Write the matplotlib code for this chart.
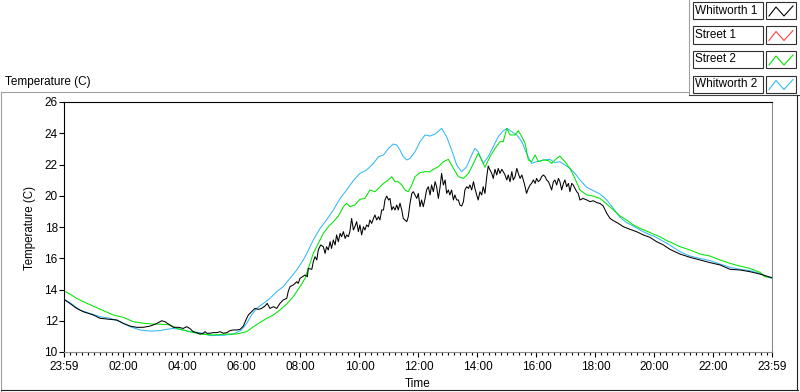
import matplotlib.pyplot as plt
from matplotlib.lines import Line2D
from matplotlib.patches import Rectangle

plt.rcParams['font.family'] = ['Liberation Sans', 'DejaVu Sans']

# time in hours after 23:59, temperature in C
black_h = [0.00, 0.20, 0.43, 0.65, 0.99, 1.22, 1.56, 1.79, 2.01, 2.24, 2.46, 2.69, 2.92, 3.08, 3.20,
           3.31, 3.42, 3.54, 3.71, 3.88, 4.04, 4.16, 4.27, 4.38, 4.50, 4.61, 4.72, 4.78, 4.84, 4.95,
           5.06, 5.18, 5.29, 5.40, 5.52, 5.63, 5.74, 5.85, 5.97, 6.08, 6.19, 6.25, 6.36, 6.47, 6.59,
           6.70, 6.81, 6.89, 6.98, 7.10, 7.21, 7.32, 7.43, 7.55, 7.60, 7.66, 7.77, 7.83, 7.89, 7.94,
           8.00, 8.17, 8.25, 8.28, 8.40, 8.45, 8.51, 8.57, 8.62, 8.70, 8.79, 8.85, 8.90, 8.96, 9.02,
           9.07, 9.13, 9.19, 9.24, 9.30, 9.36, 9.41, 9.47, 9.53, 9.58, 9.64, 9.69, 9.75, 9.81, 9.86,
           9.92, 9.98, 10.03, 10.09, 10.15, 10.20, 10.26, 10.32, 10.37, 10.43, 10.49, 10.54, 10.60,
           10.66, 10.71, 10.77, 10.83, 10.88, 10.94, 11.00, 11.05, 11.11, 11.16, 11.22, 11.28, 11.33,
           11.39, 11.45, 11.50, 11.56, 11.62, 11.67, 11.73, 11.79, 11.84, 11.90, 11.96, 12.01, 12.07,
           12.12, 12.18, 12.24, 12.29, 12.35, 12.41, 12.46, 12.52, 12.58, 12.63, 12.69, 12.75, 12.80,
           12.86, 12.92, 12.97, 13.03, 13.08, 13.14, 13.20, 13.25, 13.31, 13.37, 13.42, 13.48, 13.54,
           13.59, 13.65, 13.71, 13.76, 13.82, 13.88, 13.93, 13.99, 14.04, 14.10, 14.16, 14.21, 14.27,
           14.33, 14.38, 14.44, 14.50, 14.55, 14.61, 14.67, 14.72, 14.78, 14.84, 14.89, 14.95, 15.01,
           15.06, 15.12, 15.18, 15.23, 15.29, 15.35, 15.40, 15.46, 15.52, 15.57, 15.63, 15.68, 15.74,
           15.80, 15.85, 15.91, 15.97, 16.02, 16.08, 16.14, 16.19, 16.25, 16.31, 16.36, 16.42, 16.47,
           16.53, 16.59, 16.64, 16.70, 16.76, 16.81, 16.87, 16.93, 16.98, 17.04, 17.10, 17.15, 17.21,
           17.26, 17.32, 17.38, 17.43, 17.49, 17.60, 17.72, 17.83, 17.94, 18.06, 18.17, 18.28, 18.40,
           18.51, 18.62, 18.79, 18.96, 19.19, 19.41, 19.64, 19.86, 20.09, 20.32, 20.54, 20.88, 21.22,
           21.56, 21.90, 22.24, 22.58, 22.92, 23.25, 23.59, 23.82, 23.99]
black_t = [13.37, 13.11, 12.79, 12.58, 12.37, 12.16, 12.09, 12.05, 11.83, 11.66, 11.58, 11.58, 11.66,
           11.77, 11.88, 12.00, 11.94, 11.79, 11.58, 11.58, 11.51, 11.62, 11.50, 11.30, 11.24, 11.15,
           11.20, 11.30, 11.20, 11.20, 11.24, 11.24, 11.30, 11.20, 11.24, 11.37, 11.41, 11.41, 11.45,
           11.66, 12.15, 12.37, 12.58, 12.79, 12.73, 12.79, 12.94, 13.11, 12.79, 12.90, 12.79, 13.11,
           13.33, 13.43, 13.86, 14.18, 14.29, 14.39, 14.50, 14.39,
           14.71, 14.93, 14.82, 15.35, 15.29, 15.78, 16.10, 15.89, 16.53, 16.85, 16.74, 16.31, 16.74,
           16.53, 17.06, 16.63, 17.17, 16.85, 17.49, 17.06, 17.59, 17.38, 17.70, 17.27, 17.49, 17.38,
           17.70, 18.55, 17.81, 18.02, 18.34, 17.70, 18.13, 17.49, 18.02, 17.81, 18.13, 18.02, 18.45,
           18.23, 18.55, 18.77, 18.45, 18.66, 18.45, 19.09, 19.09, 19.73, 19.98, 19.73, 19.83, 19.09,
           19.30, 19.09, 19.41, 19.09, 19.52, 19.09, 18.55, 18.45, 18.34, 18.66, 19.52, 20.15, 20.26,
           20.05, 19.83, 20.15, 19.30, 19.73, 19.30, 19.83, 20.37, 20.58, 20.05, 20.69, 20.26, 20.90,
           20.58, 19.83, 20.58, 21.43, 20.69, 21.01, 20.15, 20.37, 20.05, 20.37, 19.73, 20.05, 19.73,
           19.73, 19.41, 19.34, 19.62, 20.37, 20.58, 20.47, 20.69, 20.37, 20.90, 20.47, 20.05, 19.73,
           20.26, 20.05, 20.58, 20.15, 21.22, 21.90, 21.65, 21.43, 21.11, 21.69, 21.33, 21.75, 21.43,
           21.69, 21.54, 21.33, 21.01, 21.33, 20.90, 21.54, 21.01, 21.22, 21.75, 21.43, 21.11, 21.33,
           21.01, 20.58, 20.15, 20.47, 20.69, 20.79, 21.01, 20.79, 21.11, 20.90, 21.01, 21.22, 21.33,
           21.22, 21.01, 20.90, 20.69, 20.37, 20.90, 21.01, 20.69, 21.11, 20.90, 20.37, 20.79, 21.01,
           20.58, 20.79, 20.26, 20.79, 20.69, 20.47, 20.26, 20.15, 19.73, 19.83, 19.73, 19.62, 19.68,
           19.56, 19.51, 19.34, 18.87, 18.55, 18.41, 18.23, 18.02, 17.85, 17.70, 17.49, 17.34, 17.06,
           16.85, 16.57, 16.27, 16.06, 15.89, 15.72, 15.57, 15.29, 15.25, 15.14, 14.99, 14.86, 14.76]

green_h = [0.00, 0.20, 0.43, 0.77, 0.99, 1.33, 1.67, 2.01, 2.35, 2.69, 3.03, 3.37, 3.59, 3.82, 4.04,
           4.27, 4.61, 5.06, 5.52, 5.85, 6.19, 6.42, 6.64, 6.87, 7.10, 7.32, 7.55, 7.77, 8.00, 8.17,
           8.34, 8.45, 8.62, 8.79, 8.96, 9.13, 9.30, 9.47, 9.58, 9.69, 9.86, 10.03, 10.20, 10.37,
           10.54, 10.66, 10.83, 11.00, 11.11, 11.22, 11.33, 11.45, 11.56, 11.67, 11.79, 11.90, 12.07,
           12.24, 12.41, 12.52, 12.69, 12.86, 13.03, 13.20, 13.37, 13.54, 13.71, 13.88, 14.04, 14.16,
           14.27, 14.44, 14.61, 14.78, 14.89, 15.01, 15.12, 15.29, 15.40, 15.52, 15.63, 15.74, 15.85,
           15.97, 16.08, 16.25, 16.42, 16.53, 16.70, 16.81, 16.98, 17.15, 17.32, 17.49, 17.72, 17.94,
           18.17, 18.40, 18.62, 18.85, 19.07, 19.30, 19.53, 19.75, 19.98, 20.20, 20.43, 20.54, 20.88,
           21.22, 21.56, 21.90, 22.24, 22.58, 22.92, 23.25, 23.59, 23.76, 23.99]
green_t = [13.92, 13.71, 13.43, 13.12, 12.94, 12.65, 12.37, 12.22, 11.94, 11.84, 11.79, 11.77, 11.73,
           11.51, 11.41, 11.30, 11.15, 11.09, 11.15, 11.15, 11.30, 11.62, 11.88, 12.15, 12.37, 12.69,
           13.07, 13.54, 14.18, 14.71, 15.67, 16.31, 16.95, 17.59, 18.02, 18.34, 18.70, 19.30, 19.52,
           19.30, 19.41, 19.77, 19.83, 20.37, 20.26, 20.47, 20.79, 21.01, 21.22, 20.90, 20.90, 20.69,
           20.37, 20.26, 20.69, 21.22, 21.48, 21.54, 21.54, 21.69, 21.86, 22.18, 22.33, 21.75, 21.22,
           21.11, 21.43, 22.07, 22.71, 22.29, 21.82, 22.50, 23.03, 23.46, 23.46, 24.31, 23.89, 23.89,
           24.17, 23.78, 23.35, 22.29, 22.18, 22.61, 22.18, 22.29, 22.25, 22.07, 22.39, 22.54, 22.18,
           21.75, 21.11, 20.37, 20.05, 19.98, 19.83, 19.47, 19.09, 18.70, 18.45, 18.13, 17.91, 17.74,
           17.55, 17.38, 17.13, 17.05, 16.74, 16.53, 16.27, 16.14, 15.89, 15.67, 15.50, 15.35, 15.10,
           14.82, 14.76]

blue_h = [0.00, 0.20, 0.54, 0.88, 1.22, 1.56, 1.90, 2.24, 2.58, 2.92, 3.25, 3.48, 3.71, 3.93, 4.27,
          4.61, 4.95, 5.40, 5.74, 6.02, 6.19, 6.36, 6.53, 6.76, 6.98, 7.21, 7.43, 7.66, 7.89, 8.11,
          8.23, 8.45, 8.68, 8.90, 9.13, 9.36, 9.58, 9.81, 10.03, 10.26, 10.49, 10.66, 10.83, 11.00,
          11.16, 11.28, 11.39, 11.50, 11.62, 11.73, 11.90, 12.07, 12.24, 12.41, 12.58, 12.80, 12.97,
          13.14, 13.31, 13.48, 13.65, 13.82, 13.93, 14.04, 14.21, 14.38, 14.55, 14.72, 14.89, 15.01,
          15.18, 15.35, 15.52, 15.68, 15.85, 16.02, 16.25, 16.47, 16.64, 16.81, 16.98, 17.15, 17.32,
          17.49, 17.72, 17.94, 18.17, 18.40, 18.62, 18.85, 19.07, 19.30, 19.53, 19.75, 19.98, 20.20,
          20.43, 20.54, 20.88, 21.22, 21.56, 21.90, 22.24, 22.58, 22.92, 23.25, 23.59, 23.82, 23.99]
blue_t = [13.37, 13.16, 12.69, 12.47, 12.26, 12.16, 11.94, 11.62, 11.41, 11.34, 11.37, 11.45, 11.51,
          11.45, 11.30, 11.24, 11.05, 11.07, 11.15, 11.41, 11.83, 12.37, 12.79, 13.11, 13.43, 13.86,
          14.18, 14.71, 15.25, 15.89, 16.31, 17.17, 17.91, 18.45, 19.09, 19.83, 20.37, 20.97, 21.43,
          21.65, 22.07, 22.50, 22.61, 23.03, 23.31, 23.25, 22.93, 22.50, 22.29, 22.39, 22.82, 23.46,
          23.89, 23.82, 23.95, 24.31, 23.78, 22.93, 21.97, 21.54, 21.86, 22.61, 23.03, 22.82, 22.07,
          22.50, 23.14, 23.78, 24.16, 24.31, 24.10, 23.89, 23.46, 22.71, 22.07, 22.18, 22.29, 22.33,
          22.12, 22.18, 21.97, 21.75, 21.43, 21.01, 20.54, 20.33, 20.11, 19.73, 19.19, 18.62, 18.28,
          18.06, 17.81, 17.59, 17.42, 17.21, 16.96, 16.84, 16.42, 16.14, 15.99, 15.85, 15.63, 15.42,
          15.29, 15.21, 15.03, 14.82, 14.71]

# Street 1 has no samples in this chart
red_h = []
red_t = []

series_names = ['Whitworth 1', 'Street 1', 'Street 2', 'Whitworth 2']
series_colors = ['#000000', '#ff4040', '#00e600', '#33b8f8']

tick_hours = [0, 2 + 1/60, 4 + 1/60, 6 + 1/60, 8 + 1/60, 10 + 1/60, 12 + 1/60,
              14 + 1/60, 16 + 1/60, 18 + 1/60, 20 + 1/60, 22 + 1/60, 24]
tick_labels = ['23:59', '02:00', '04:00', '06:00', '08:00', '10:00', '12:00',
               '14:00', '16:00', '18:00', '20:00', '22:00', '23:59']

W, H = 800, 392
fig = plt.figure(figsize=(W / 100, H / 100), dpi=100)


def fx(x):
    return x / W


def fy(y):
    return 1 - y / H


ax = fig.add_axes([fx(64), fy(352), (772 - 64) / W, (352 - 102) / H])

for h, t, c in [(blue_h, blue_t, series_colors[3]), (green_h, green_t, series_colors[2]),
                (red_h, red_t, series_colors[1]), (black_h, black_t, series_colors[0])]:
    ax.plot(h, t, color=c, lw=0.75)

ax.set_xlim(0, 24)
ax.set_ylim(10, 26)
ax.set_yticks(range(10, 27, 2))
ax.set_xticks(tick_hours)
ax.set_xticklabels(tick_labels)
ax.set_xticks([1/60 + 0.2 * i for i in range(120) if (i % 10) != 0], minor=True)

for s in ['top', 'left']:
    ax.spines[s].set_color('black')
for s in ['bottom', 'right']:
    ax.spines[s].set_color('#8c8c8c')
for s in ax.spines.values():
    s.set_linewidth(0.8)

ax.tick_params(axis='y', direction='out', length=3.5, width=0.8, pad=1, labelsize=8.5)
ax.tick_params(axis='x', which='major', direction='out', length=3.8, width=0.8, pad=3, labelsize=8.5)
ax.tick_params(axis='x', which='minor', direction='out', length=1.8, width=0.8)

fig.text(fx(30), fy(228), 'Temperature (C)', rotation=90, ha='center', va='center', fontsize=8.3)
fig.text(fx(418), fy(384), 'Time', ha='center', va='center', fontsize=8.5)
fig.text(fx(5), fy(82), 'Temperature (C)', ha='left', va='center', fontsize=8.5)

# panel frame
frame = [((1, 92), (689, 92), '#a0a0a0'), ((689, 0), (689, 95), '#a0a0a0'),
         ((689, 95), (799, 95), '#404040'), ((1, 92), (1, 391), '#a0a0a0'),
         ((1, 390), (798, 390), '#202020'), ((797, 95), (797, 390), '#202020')]
for (x0, y0), (x1, y1), c in frame:
    fig.add_artist(Line2D([fx(x0), fx(x1)], [fy(y0), fy(y1)], color=c, lw=0.8))

# legend boxes
for i, (name, col) in enumerate(zip(series_names, series_colors)):
    top = 2 + 24.5 * i
    fig.add_artist(Rectangle((fx(693), fy(top + 17)), 70 / W, 17 / H, fill=False,
                             edgecolor='#303030', lw=0.8))
    fig.add_artist(Rectangle((fx(766), fy(top + 17)), 30 / W, 17 / H, fill=False,
                             edgecolor='#303030', lw=0.8))
    fig.text(fx(695), fy(top + 8.5), name, ha='left', va='center', fontsize=8.5)
    zx = [769, 776, 784, 793]
    zy = [top + 14, top + 5, top + 14, top + 4]
    fig.add_artist(Line2D([fx(v) for v in zx], [fy(v) for v in zy], color=col, lw=0.8))

fig.savefig('out.png', dpi=100, facecolor='white')
